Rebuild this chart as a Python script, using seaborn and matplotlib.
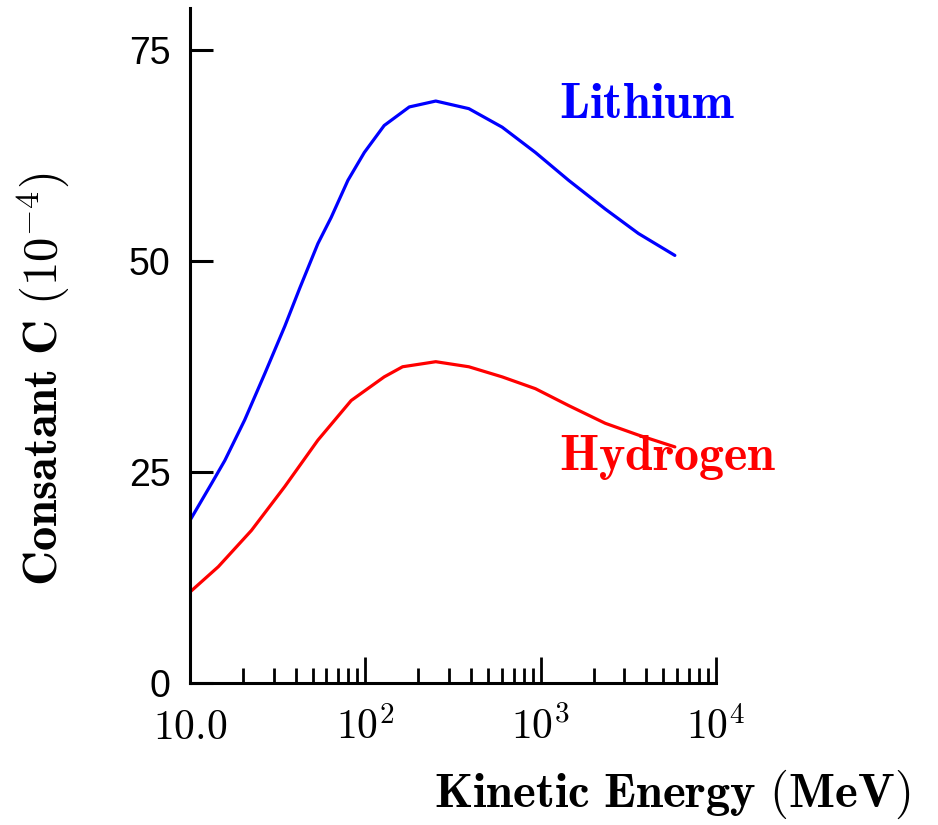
import pandas as pd
import matplotlib.pyplot as plt
import seaborn as sns

li_energy = [10, 13.3, 15.8, 20.5, 26.7, 34.7, 42.2, 53.6, 63.8, 79.5, 98.6, 128, 178, 252, 389, 603, 933, 1443, 2333, 3607, 5820]
li_c = [19.3, 23.7, 26.4, 31.2, 36.7, 42.3, 46.8, 52.1, 55.2, 59.6, 62.9, 66.1, 68.3, 69.0, 68.1, 65.9, 62.9, 59.6, 56.2, 53.3, 50.7]

h_energy = [10, 14.5, 22.4, 34.7, 53.6, 83, 128, 163, 252, 389, 603, 933, 1443, 2333, 3607, 5820]
h_c = [10.8, 13.8, 18.1, 23.3, 28.8, 33.5, 36.3, 37.5, 38.1, 37.5, 36.3, 34.9, 32.9, 30.8, 29.4, 28.0]

x_ticks = [10, 100, 1000, 10000]
x_tick_labels = ['$10.0$', '$10^2$', '$10^3$', '$10^4$']
y_ticks = [0, 25, 50, 75]

df = pd.concat([
    pd.DataFrame({'energy': li_energy, 'C': li_c, 'element': 'Lithium'}),
    pd.DataFrame({'energy': h_energy, 'C': h_c, 'element': 'Hydrogen'}),
])

sns.set_style('ticks')
plt.rcParams['mathtext.fontset'] = 'cm'
plt.rcParams['font.family'] = ['Liberation Sans', 'DejaVu Sans']

fig = plt.figure(figsize=(9.38, 8.25), dpi=100)
ax = fig.add_axes([0.2026, 0.172, 0.5608, 0.818])

sns.lineplot(data=df, x='energy', y='C', hue='element',
             palette={'Lithium': '#0000ff', 'Hydrogen': '#ff0000'},
             linewidth=2.3, legend=False, ax=ax)

ax.set_xscale('log')
ax.set_xlim(10, 10000)
ax.set_ylim(0, 80)

ax.set_xticks(x_ticks)
ax.set_xticklabels(x_tick_labels)
ax.set_yticks(y_ticks)
ax.set_yticklabels([str(v) for v in y_ticks])

ax.tick_params(axis='x', which='major', direction='in', length=19, width=2,
               labelsize=30, pad=18, color='black', labelcolor='black')
ax.tick_params(axis='x', which='minor', direction='in', length=11, width=2, color='black')
ax.tick_params(axis='y', which='major', direction='in', length=16.5, width=2.2,
               labelsize=27, pad=14, color='black', labelcolor='black')

for side in ['top', 'right']:
    ax.spines[side].set_visible(False)
for side in ['left', 'bottom']:
    ax.spines[side].set_linewidth(2.2)
    ax.spines[side].set_color('black')

ax.set_xlabel(r'$\mathbf{Kinetic\ Energy\ (MeV)}$', fontsize=35, color='black')
ax.xaxis.set_label_coords(0.916, -0.126)
ax.set_ylabel(r'$\mathbf{Consatant\ C}\ (10^{-4})$', fontsize=35, color='black')
ax.yaxis.set_label_coords(-0.226, 0.45)

ax.text(1265, 68.5, r'$\mathbf{Lithium}$', color='#0000ff', fontsize=36, va='center', ha='left')
ax.text(1265, 26.8, r'$\mathbf{Hydrogen}$', color='#ff0000', fontsize=36, va='center', ha='left')

plt.savefig('out.png', dpi=100)
